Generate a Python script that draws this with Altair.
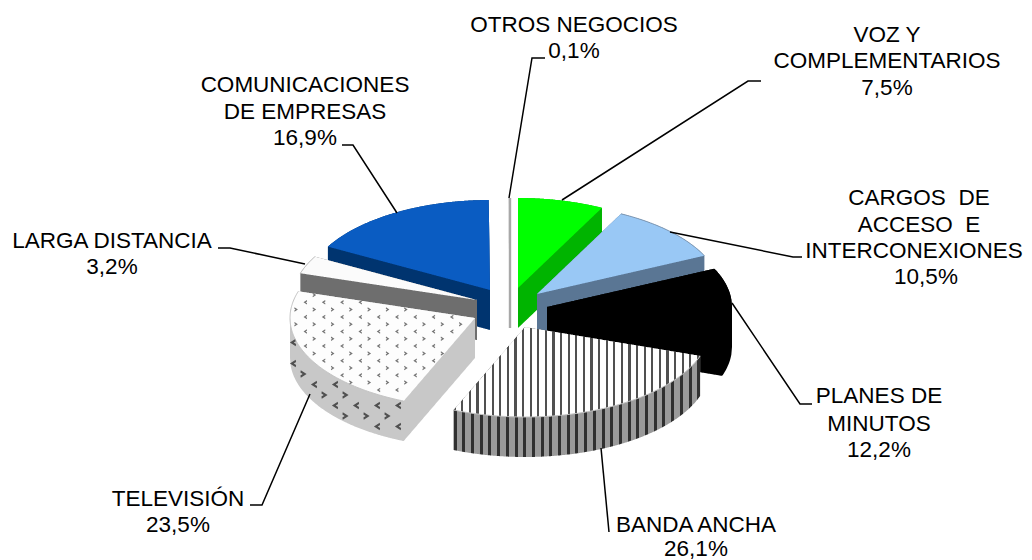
import math
import altair as alt
import pandas as pd

# --- chart values, clockwise from 12 o'clock
categories = ["VOZ Y COMPLEMENTARIOS", "CARGOS DE ACCESO E INTERCONEXIONES", "PLANES DE MINUTOS",
              "BANDA ANCHA", "TELEVISIÓN", "LARGA DISTANCIA", "COMUNICACIONES DE EMPRESAS", "OTROS NEGOCIOS"]
values = [7.5, 10.5, 12.2, 26.1, 23.5, 3.2, 16.9, 0.1]

# --- label texts
label_lines = ["OTROS NEGOCIOS", "0,1%", "VOZ Y", "COMPLEMENTARIOS", "7,5%",
               "CARGOS \u00a0DE", "ACCESO \u00a0E", "INTERCONEXIONES", "10,5%",
               "PLANES DE", "MINUTOS", "12,2%", "BANDA ANCHA", "26,1%",
               "TELEVISIÓN", "23,5%", "LARGA DISTANCIA", "3,2%",
               "COMUNICACIONES", "DE EMPRESAS", "16,9%"]

# --- layout (separate from the data)
label_x = [574, 574, 887, 887, 887, 919, 919, 914, 926, 879, 879, 879, 696, 696, 178, 178, 112, 112, 305, 305, 305]
label_y = [32, 58, 42, 68, 95, 205, 232, 258, 284, 403, 431, 457, 532, 556, 506, 532, 248, 274, 92, 119, 145]
leaders = [
    [(509, 198), (532, 58), (545, 58)],
    [(562, 200), (748, 81), (761, 81)],
    [(670, 232), (793, 257), (802, 257)],
    [(732, 303), (800, 404), (812, 404)],
    [(601, 448), (609, 532)],
    [(310, 394), (262, 505), (250, 505)],
    [(305, 264), (230, 248), (218, 248)],
    [(397, 213), (353, 145), (342, 145)],
]
RX, RY, DEPTH = 185.0, 90.0, 40.0
apex = {
    "VOZ Y COMPLEMENTARIOS": (518, 288),
    "CARGOS DE ACCESO E INTERCONEXIONES": (537, 294),
    "PLANES DE MINUTOS": (547, 307),
    "BANDA ANCHA": (525, 327),
    "TELEVISIÓN": (475, 318),
    "LARGA DISTANCIA": (477, 300),
    "COMUNICACIONES DE EMPRESAS": (490, 290),
    "OTROS NEGOCIOS": (510, 288),
}
top_color = {
    "VOZ Y COMPLEMENTARIOS": "#00ff00",
    "CARGOS DE ACCESO E INTERCONEXIONES": "#99c8f5",
    "PLANES DE MINUTOS": "#000000",
    "BANDA ANCHA": "#ffffff",
    "TELEVISIÓN": "#fdfdfd",
    "LARGA DISTANCIA": "#fbfbfb",
    "COMUNICACIONES DE EMPRESAS": "#0a5cc2",
    "OTROS NEGOCIOS": "#c8c8c8",
}
side_color = {
    "VOZ Y COMPLEMENTARIOS": "#00b400",
    "CARGOS DE ACCESO E INTERCONEXIONES": "#5a7694",
    "PLANES DE MINUTOS": "#000000",
    "BANDA ANCHA": "#9a9a9a",
    "TELEVISIÓN": "#c8c8c8",
    "LARGA DISTANCIA": "#6e6e6e",
    "COMUNICACIONES DE EMPRESAS": "#00346f",
    "OTROS NEGOCIOS": "#9a9a9a",
}
draw_order = ["COMUNICACIONES DE EMPRESAS", "LARGA DISTANCIA", "TELEVISIÓN", "OTROS NEGOCIOS",
              "VOZ Y COMPLEMENTARIOS", "CARGOS DE ACCESO E INTERCONEXIONES", "PLANES DE MINUTOS", "BANDA ANCHA"]

X = alt.X("x:Q", scale=alt.Scale(domain=[8, 1024], range=[0, 1016]), axis=None)
Y = alt.Y("y:Q", scale=alt.Scale(domain=[8, 560], range=[0, 552]), axis=None)

# angle span of each slice, from its value
total = sum(values)
span = {}
acc = 0.0
for c, v in zip(categories, values):
    span[c] = (acc / total * 2 * math.pi, (acc + v) / total * 2 * math.pi)
    acc += v


def wedge(c):
    ax, ay = apex[c]
    t0, t1 = span[c]
    n = max(3, int((t1 - t0) * 80))
    pts = [(ax, ay)]
    for i in range(n + 1):
        t = t0 + (t1 - t0) * i / n
        pts.append((ax + RX * math.sin(t), ay - RY * math.cos(t)))
    return pts


def envelope(pts, extra=0.0):
    xs = [p[0] for p in pts]
    lo, hi = min(xs), max(xs)
    steps = max(2, int((hi - lo) * 1.5))
    rows = []
    m = len(pts)
    for i in range(steps + 1):
        x = lo + (hi - lo) * i / steps
        ys = []
        for j in range(m):
            (x0, y0), (x1, y1) = pts[j], pts[(j + 1) % m]
            a, b = min(x0, x1), max(x0, x1)
            if a - 1e-9 <= x <= b + 1e-9:
                if abs(x1 - x0) < 1e-9:
                    ys += [y0, y1]
                else:
                    ys.append(y0 + (y1 - y0) * (x - x0) / (x1 - x0))
        if ys:
            rows.append({"x": x, "y": min(ys), "y2": max(ys) + extra})
    return pd.DataFrame(rows)


def stripes(lo, hi, period, dark, base, light):
    w = hi - lo
    stops = []
    x = 0.0
    while x < w:
        a, b = x / w, min(1, (x + dark) / w)
        c = min(1, (x + period) / w)
        stops += [alt.GradientStop(offset=a, color=light), alt.GradientStop(offset=b, color=light),
                  alt.GradientStop(offset=b, color=base), alt.GradientStop(offset=c, color=base)]
        x += period
    return alt.LinearGradient(gradient="linear", stops=stops, x1=0, x2=1, y1=0, y2=0)


def area(df, fill):
    return alt.Chart(df).mark_area(color=fill, line=False, interpolate="linear").encode(x=X, y=Y, y2="y2:Q")


def outline(pts, color, w=1.0):
    df = pd.DataFrame([{"x": p[0], "y": p[1], "i": i} for i, p in enumerate(pts)])
    return alt.Chart(df).mark_line(color=color, strokeWidth=w, interpolate="linear").encode(x=X, y=Y, order="i:Q")


CHEV_R = "M-0.7,-1L0.8,0L-0.7,1L-0.8,0.4L-0.2,0L-0.8,-0.4Z"
CHEV_L = "M0.7,-1L-0.8,0L0.7,1L0.8,0.4L0.2,0L0.8,-0.4Z"


def tv_texture():
    c = "TELEVISIÓN"
    ax, ay = apex[c]
    t0, t1 = span[c]

    def inside(x, y):
        u, v = (x - ax) / RX, (ay - y) / RY
        t = math.atan2(u, v) % (2 * math.pi)
        return (u * u + v * v) ** 0.5 < 0.985 and t0 + 0.02 < t < t1 - 0.01

    top_a, top_b, wall_a, wall_b = [], [], [], []
    for r in range(0, 22):
        yy = 295 + r * 7.3
        for k in range(0, 12):
            xx = 287 + k * 18.3 + (9.1 if r % 2 == 0 else 0)
            if inside(xx, yy):
                (top_a if r % 2 == 0 else top_b).append({"x": xx, "y": yy})
    for r in range(0, 12):
        yy = 332 + r * 10.5
        for k in range(0, 8):
            xx = 293 + k * 21 + (10.5 if r % 2 == 0 else 0)
            if xx > ax - 71 - 5:
                continue
            u = (xx - ax) / RX
            if abs(u) >= 1:
                continue
            arc = ay + RY * (1 - u * u) ** 0.5
            if arc + 5 < yy < arc + DEPTH - 5:
                (wall_a if r % 2 == 0 else wall_b).append({"x": xx, "y": yy})
    out = []
    for rows, shape, col, size in [(top_a, CHEV_R, "#767676", 20), (top_b, CHEV_L, "#767676", 20),
                                   (wall_a, CHEV_R, "#505050", 60), (wall_b, CHEV_L, "#505050", 60)]:
        out.append(alt.Chart(pd.DataFrame(rows)).mark_point(shape=shape, filled=True, size=size, color=col,
                                                            opacity=1, strokeWidth=0).encode(x=X, y=Y))
    return out


layers = []
for c in draw_order:
    pts = wedge(c)
    lo, hi = min(p[0] for p in pts), max(p[0] for p in pts)
    side = side_color[c]
    top = top_color[c]
    if c == "BANDA ANCHA":
        side = stripes(lo, hi, 8.7, 3.0, "#9a9a9a", "#303030")
        top = stripes(lo, hi, 7.6, 2.2, "#ffffff", "#505050")
    layers.append(area(envelope(pts, DEPTH), side))
    layers.append(area(envelope(pts), top))
    if c == "TELEVISIÓN":
        layers += tv_texture()
    if c in ("TELEVISIÓN", "LARGA DISTANCIA", "BANDA ANCHA"):
        layers.append(outline(pts[1:], "#c4c4c4"))
    if c == "CARGOS DE ACCESO E INTERCONEXIONES":
        layers.append(outline(pts[1:], "#7d97b3"))
    if c == "OTROS NEGOCIOS":
        ax, ay = apex[c]
        layers.append(outline([(ax, ay - RY), (ax, ay + DEPTH)], "#a8a8a8", 2.4))

for i, seg in enumerate(leaders):
    df = pd.DataFrame([{"x": p[0], "y": p[1], "i": j} for j, p in enumerate(seg)])
    layers.append(alt.Chart(df).mark_line(color="#000000", strokeWidth=1.5, interpolate="linear")
                  .encode(x=X, y=Y, order="i:Q"))

labels = pd.DataFrame({"t": label_lines, "x": label_x, "y": label_y})
layers.append(alt.Chart(labels).mark_text(font="Liberation Sans", fontSize=22.5, align="center",
                                          baseline="alphabetic", color="#000000")
              .encode(x=X, y=Y, text="t:N"))

chart = (alt.layer(*layers)
         .properties(width=1016, height=552, padding=0, autosize=alt.AutoSizeParams(type="none"),
                     view=alt.ViewBackground(stroke="transparent", strokeWidth=0))
         .configure_view(strokeWidth=0, stroke="transparent")
         .configure(background="#ffffff"))
chart.save("out.html", embed_options={"renderer": "svg", "actions": False})
